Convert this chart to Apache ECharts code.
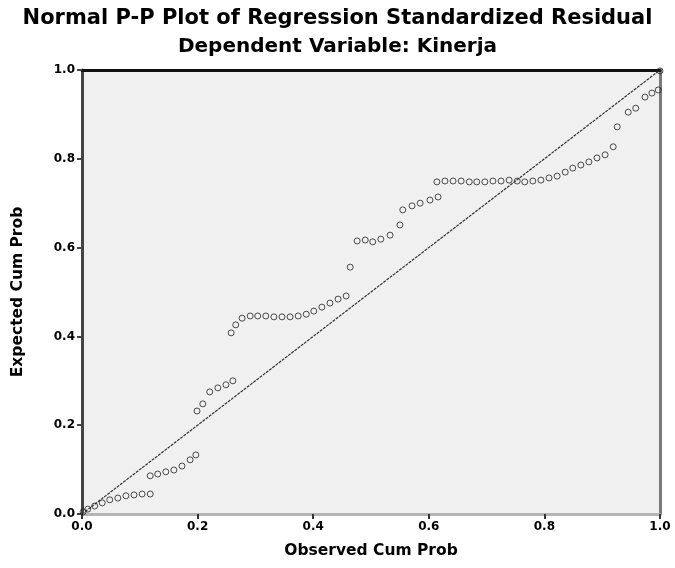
<!DOCTYPE html>
<html>
<head>
<meta charset="utf-8">
<script src="https://cdn.jsdelivr.net/npm/echarts@6/dist/echarts.min.js"></script>
<style>
  html, body { margin: 0; padding: 0; background: #fff; }
  #chart { width: 675px; height: 568px; }
</style>
</head>
<body>
<div id="chart"></div>
<script>
const TITLE = 'Normal P-P Plot of Regression Standardized Residual'
const SUBTITLE = 'Dependent Variable: Kinerja'
const X_NAME = 'Observed Cum Prob'
const Y_NAME = 'Expected Cum Prob'

// observed cum prob (x) and expected cum prob (y)
const observed = [
  0.002, 0.010, 0.022, 0.035, 0.048, 0.062, 0.076, 0.090, 0.104, 0.118,
  0.118, 0.131, 0.145, 0.159, 0.173, 0.187, 0.197,
  0.199, 0.209, 0.221, 0.235, 0.249, 0.261,
  0.258, 0.266, 0.277, 0.291, 0.304, 0.318, 0.332, 0.346, 0.360, 0.374, 0.388, 0.401, 0.415, 0.429, 0.443, 0.457,
  0.464,
  0.476, 0.490, 0.503, 0.517, 0.533, 0.550,
  0.555, 0.571, 0.585, 0.602, 0.616,
  0.614, 0.628, 0.642, 0.656, 0.670, 0.683, 0.697, 0.711, 0.725, 0.739, 0.753,
  0.766, 0.780, 0.794, 0.808, 0.822, 0.836, 0.849, 0.863, 0.877, 0.891, 0.905, 0.919,
  0.926, 0.945, 0.958, 0.974, 0.986, 0.997, 1.000
]
const expected = [
  0.005, 0.011, 0.018, 0.025, 0.032, 0.036, 0.041, 0.043, 0.045, 0.045,
  0.086, 0.090, 0.095, 0.099, 0.108, 0.122, 0.133,
  0.232, 0.248, 0.275, 0.284, 0.291, 0.300,
  0.408, 0.426, 0.441, 0.446, 0.446, 0.446, 0.444, 0.444, 0.444, 0.446, 0.450, 0.457, 0.466, 0.475, 0.484, 0.491,
  0.556,
  0.615, 0.617, 0.613, 0.619, 0.628, 0.651,
  0.685, 0.694, 0.700, 0.707, 0.714,
  0.748, 0.750, 0.750, 0.750, 0.748, 0.748, 0.748, 0.750, 0.750, 0.752, 0.750,
  0.748, 0.750, 0.752, 0.757, 0.761, 0.770, 0.779, 0.786, 0.793, 0.802, 0.809, 0.827,
  0.872, 0.905, 0.914, 0.939, 0.948, 0.955, 0.998
]
const refLine = [[0, 0], [1, 1]]

const FONT = 'DejaVu Sans, Liberation Sans, sans-serif'
const tickFmt = (v) => v.toFixed(1)

const chart = echarts.init(document.getElementById('chart'), null, { renderer: 'canvas' })
chart.setOption({
  animation: false,
  textStyle: { fontFamily: FONT, color: '#000' },
  title: [
    { text: TITLE, left: 'center', top: 3, textStyle: { fontSize: 21, fontWeight: 'bold', color: '#000', fontFamily: FONT } },
    { text: SUBTITLE, left: 'center', top: 32, textStyle: { fontSize: 20, fontWeight: 'bold', color: '#000', fontFamily: FONT } },
  ],
  grid: { left: 82, right: 15, top: 70, bottom: 54, show: true, backgroundColor: '#f0f0f0', borderWidth: 0 },
  xAxis: [
    {
      type: 'value', min: 0, max: 1, interval: 0.2, position: 'bottom',
      name: X_NAME, nameLocation: 'middle', nameGap: 29,
      nameTextStyle: { fontSize: 15.5, fontWeight: 'bold', color: '#000' },
      axisLine: { onZero: false, lineStyle: { color: '#b5b5b5', width: 3 } },
      axisTick: { length: 5, lineStyle: { color: '#333', width: 2 } },
      axisLabel: { formatter: tickFmt, fontSize: 12, fontWeight: 'bold', color: '#000', margin: 7 },
      splitLine: { show: false },
    },
    {
      type: 'value', min: 0, max: 1, position: 'top',
      axisLine: { onZero: false, lineStyle: { color: '#111', width: 3 } },
      axisTick: { show: false }, axisLabel: { show: false }, splitLine: { show: false },
    },
  ],
  yAxis: [
    {
      type: 'value', min: 0, max: 1, interval: 0.2, position: 'left',
      name: Y_NAME, nameLocation: 'middle', nameGap: 56, nameRotate: 90,
      nameTextStyle: { fontSize: 15.5, fontWeight: 'bold', color: '#000' },
      axisLine: { onZero: false, lineStyle: { color: '#444', width: 3 } },
      axisTick: { length: 5, lineStyle: { color: '#444', width: 2 } },
      axisLabel: { formatter: tickFmt, fontSize: 12, fontWeight: 'bold', color: '#000', margin: 7 },
      splitLine: { show: false },
    },
    {
      type: 'value', min: 0, max: 1, position: 'right',
      axisLine: { onZero: false, lineStyle: { color: '#7a7a7a', width: 3 } },
      axisTick: { show: false }, axisLabel: { show: false }, splitLine: { show: false },
    },
  ],
  series: [
    {
      type: 'line', data: refLine, symbol: 'none', silent: true,
      lineStyle: { color: '#333', width: 1.2, type: [3, 1] },
      z: 2,
    },
    {
      type: 'scatter', data: observed.map((x, i) => [x, expected[i]]),
      symbol: 'circle', symbolSize: 6,
      itemStyle: { color: 'rgba(0,0,0,0)', borderColor: '#222', borderWidth: 1 },
      z: 3,
    },
  ],
})
</script>
</body>
</html>
